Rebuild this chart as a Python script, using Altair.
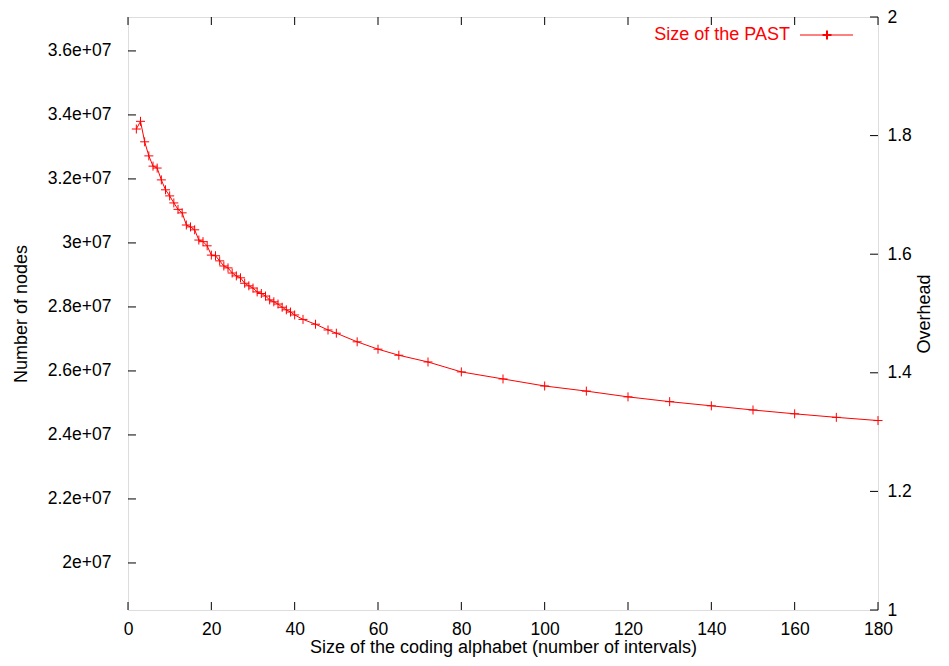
import altair as alt
import pandas as pd

# ---- data ----
alphabet_size = [2, 3, 4, 5, 6, 7, 8, 9, 10, 11, 12, 13, 14, 15, 16, 17, 18, 19, 20,
                 21, 22, 23, 24, 25, 26, 27, 28, 29, 30, 31, 32, 33, 34, 35, 36, 37, 38, 39, 40,
                 42, 45, 48, 50, 55, 60, 65, 72, 80, 90, 100, 110, 120, 130, 140, 150, 160, 170, 180]
past_nodes = [3.356e7, 3.380e7, 3.316e7, 3.272e7, 3.240e7, 3.234e7, 3.197e7, 3.166e7, 3.147e7,
              3.125e7, 3.105e7, 3.094e7, 3.056e7, 3.050e7, 3.041e7, 3.009e7, 3.004e7, 2.991e7,
              2.962e7, 2.960e7, 2.944e7, 2.928e7, 2.922e7, 2.906e7, 2.897e7, 2.891e7, 2.874e7,
              2.866e7, 2.859e7, 2.847e7, 2.842e7, 2.834e7, 2.822e7, 2.816e7, 2.809e7, 2.799e7,
              2.791e7, 2.784e7, 2.775e7, 2.761e7, 2.746e7, 2.728e7, 2.718e7, 2.691e7, 2.668e7,
              2.649e7, 2.628e7, 2.597e7, 2.575e7, 2.553e7, 2.537e7, 2.519e7, 2.504e7, 2.491e7,
              2.478e7, 2.466e7, 2.455e7, 2.445e7]
series_name = "Size of the PAST"

x_ticks = [0, 20, 40, 60, 80, 100, 120, 140, 160, 180]
y_ticks = [2.0e7, 2.2e7, 2.4e7, 2.6e7, 2.8e7, 3.0e7, 3.2e7, 3.4e7, 3.6e7]
y2_ticks = [1.0, 1.2, 1.4, 1.6, 1.8, 2.0]

x_domain = [0, 180]
y_domain = [1.853e7, 3.706e7]
y2_domain = [1.0, 2.0]

x_title = "Size of the coding alphabet (number of intervals)"
y_title = "Number of nodes"
y2_title = "Overhead"

W, H = 750, 593
RED = "#ff0000"
FONT = "Liberation Sans"
PLUS = "M-1,0L1,0M0,-1L0,1"
TICK = 8
LBL = 17.5
TTL = 18

df = pd.DataFrame({"x": alphabet_size, "nodes": past_nodes})
df_xt = pd.DataFrame({"xt": x_ticks})
df_yt = pd.DataFrame({"yt": y_ticks})
df_y2t = pd.DataFrame({"y2t": y2_ticks})
df_leg = pd.DataFrame({"label": [series_name]})

xscale = alt.Scale(domain=x_domain, nice=False, zero=False)
yscale = alt.Scale(domain=y_domain, nice=False, zero=False)
y2scale = alt.Scale(domain=y2_domain, nice=False, zero=False)

x_axis = alt.Axis(values=x_ticks, tickSize=0, labelPadding=10, domain=False, grid=False,
                  title=x_title, titlePadding=1, labelFontSize=LBL, titleFontSize=TTL,
                  titleFontWeight="normal", labelColor="black", titleColor="black", labelFlush=False)
y_axis = alt.Axis(values=y_ticks, tickSize=0, labelPadding=17, domain=False, grid=False,
                  labelExpr="format(datum.value/1e7, '.2~g') + 'e+07'",
                  title=y_title, titlePadding=17, labelFontSize=LBL, titleFontSize=TTL,
                  titleFontWeight="normal", labelColor="black", titleColor="black")
y2_axis = alt.Axis(values=y2_ticks, orient="right", tickSize=0, labelPadding=9, domain=False,
                   grid=False, format="~g", title=y2_title, titlePadding=22, titleAngle=270,
                   labelFontSize=LBL, titleFontSize=TTL, titleFontWeight="normal",
                   labelColor="black", titleColor="black", labelFlush=False)

line = alt.Chart(df).mark_line(color=RED, strokeWidth=1).encode(
    x=alt.X("x:Q", scale=xscale, axis=x_axis),
    y=alt.Y("nodes:Q", scale=yscale, axis=y_axis),
)
points = alt.Chart(df).mark_point(shape=PLUS, size=81, filled=False, color=RED,
                                  strokeWidth=1, opacity=1).encode(
    x=alt.X("x:Q", scale=xscale),
    y=alt.Y("nodes:Q", scale=yscale),
)

# inward ticks (gnuplot style)
yt_left = alt.Chart(df_yt).mark_rule(color="black", strokeWidth=1).encode(
    y=alt.Y("yt:Q", scale=yscale), x=alt.value(0), x2=alt.value(TICK))
xt_bottom = alt.Chart(df_xt).mark_rule(color="black", strokeWidth=1).encode(
    x=alt.X("xt:Q", scale=xscale), y=alt.value(H), y2=alt.value(H - TICK))
xt_top = alt.Chart(df_xt).mark_rule(color="black", strokeWidth=1).encode(
    x=alt.X("xt:Q", scale=xscale), y=alt.value(0), y2=alt.value(TICK))

# legend
leg_text = alt.Chart(df_leg).mark_text(align="right", baseline="middle", fontSize=TTL,
                                       color=RED, font=FONT).encode(
    text="label:N", x=alt.value(662), y=alt.value(18))
leg_line = alt.Chart(df_leg).mark_rule(color=RED, strokeWidth=1).encode(
    x=alt.value(672), x2=alt.value(725), y=alt.value(18))
leg_mark = alt.Chart(df_leg).mark_point(shape=PLUS, size=81, filled=False, color=RED,
                                        opacity=1).encode(
    x=alt.value(699), y=alt.value(18))

left = alt.layer(line, points, yt_left, xt_bottom, xt_top, leg_text, leg_line, leg_mark)

right = alt.Chart(df_y2t).mark_rule(color="black", strokeWidth=1).encode(
    y=alt.Y("y2t:Q", scale=y2scale, axis=y2_axis),
    x=alt.value(W - TICK), x2=alt.value(W))

chart = alt.layer(left, right).resolve_scale(y="independent").properties(
    width=W, height=H,
    padding={"left": 120, "top": 9, "right": 57, "bottom": 48},
    autosize=alt.AutoSizeParams(type="none"),
).configure_view(stroke="black", strokeWidth=1.2).configure(
    font=FONT, background="white")

chart.save("out.html", embed_options={"renderer": "svg", "actions": False})
